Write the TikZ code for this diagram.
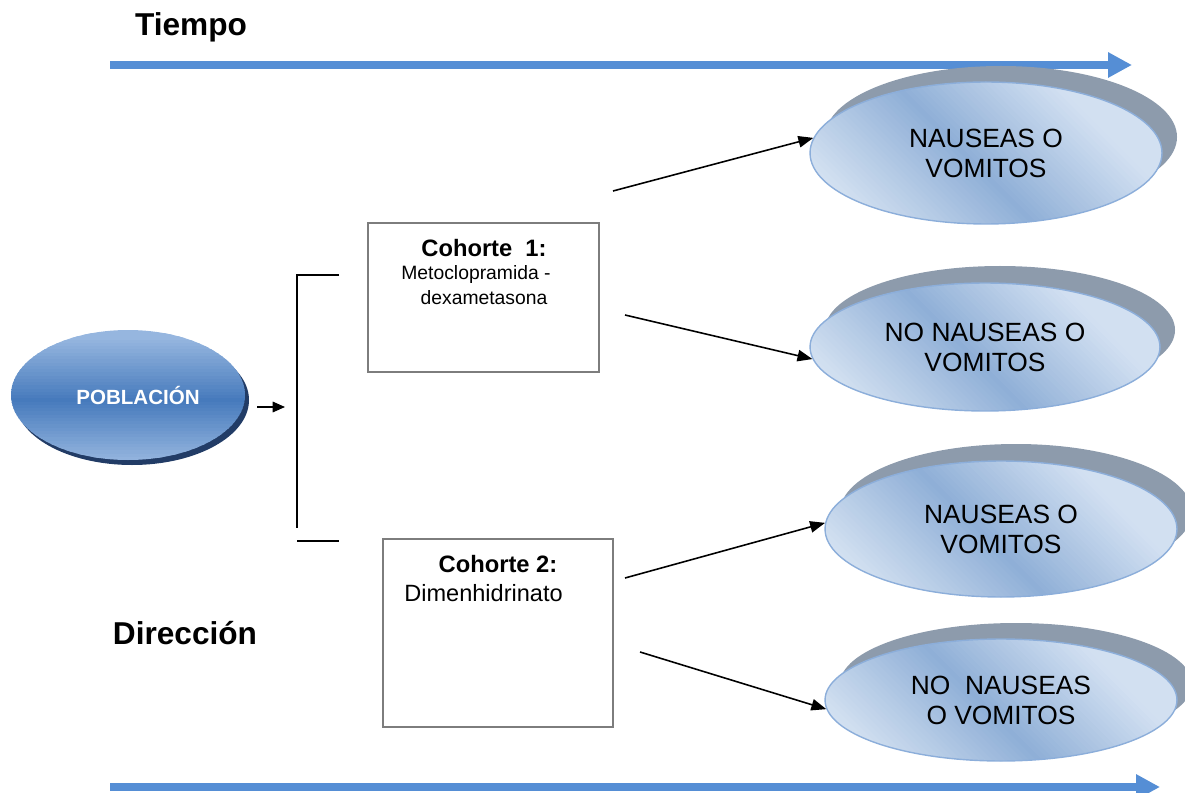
\documentclass[tikz,border=0pt]{standalone}
\usepackage{fontspec}
\setmainfont{Liberation Sans}
\usetikzlibrary{arrows.meta,shapes.geometric}
\definecolor{tblue}{RGB}{85,142,213}
\definecolor{shgray}{RGB}{141,155,172}
\definecolor{eedge}{RGB}{140,174,218}
\definecolor{elight}{RGB}{210,224,241}
\definecolor{edark}{RGB}{143,175,215}
\definecolor{plight}{RGB}{150,182,223}
\definecolor{pdark}{RGB}{70,122,188}
\definecolor{pshadow}{RGB}{34,60,102}
\definecolor{boxgray}{RGB}{125,125,125}
% diagonal light-dark-light gradient clipped to an ellipse (centre x, centre y, rx, ry)
\newcommand\myellgrad[4]{%
  \begin{scope}[shift={(#1,#2)}]
    \clip (0,0) ellipse [x radius=#3, y radius=#4];
    \pgfmathsetmacro{\RR}{10*sqrt((#3/10)*(#3/10)+(#4/10)*(#4/10))}
    \pgfmathsetmacro{\dk}{2*\RR/60}
    \pgfmathsetmacro{\hh}{#4+3}
    \foreach \i in {0,...,59}{
      \pgfmathsetmacro{\kA}{-\RR+\dk*\i}
      \pgfmathsetmacro{\kB}{\kA+\dk+1.5}
      \pgfmathsetmacro{\pp}{min(100,abs(\kA+\dk/2+0.12*\RR)/(0.85*\RR)*100)}
      \fill[elight!\pp!edark] ({\kA-\hh},{-\hh}) -- ({\kB-\hh},{-\hh}) -- ({\kB+\hh},{\hh}) -- ({\kA+\hh},{\hh}) -- cycle;
    }
  \end{scope}}
% vertical light-dark-light gradient clipped to an ellipse
\newcommand\mypobgrad[4]{%
  \begin{scope}[shift={(#1,#2)}]
    \clip (0,0) ellipse [x radius=#3, y radius=#4];
    \pgfmathsetmacro{\dy}{2*#4/40}
    \foreach \i in {0,...,39}{
      \pgfmathsetmacro{\yA}{-#4+\dy*\i}
      \pgfmathsetmacro{\yB}{\yA+\dy+1.5}
      \pgfmathsetmacro{\pp}{min(100,abs(\yA+\dy/2-0.08*#4)/(0.95*#4)*100)}
      \fill[plight!\pp!pdark] ({-#3-2},\yA) rectangle ({#3+2},\yB);
    }
  \end{scope}}
\begin{document}
\begin{tikzpicture}[x=0.02cm,y=-0.02cm,
  timearrow/.style={draw=tblue,line width=4pt,-{Triangle[length=13.6pt,width=13.6pt]}},
  conn/.style={draw=black,line width=0.9pt,-{Triangle[length=8.5pt,width=6.5pt]}},
  brline/.style={draw=black,line width=0.9pt},
  outcome/.style={ellipse,inner sep=0pt,draw=eedge,line width=0.8pt,
    align=center,font=\fontsize{15}{17}\selectfont},
  oshadow/.style={fill=shgray,draw=none},
  pobl/.style={ellipse,inner sep=0pt,draw=none,
    text=white,font=\fontsize{11.7}{14}\selectfont\bfseries},
  pshad/.style={fill=pshadow,draw=none},
  cbox/.style={draw=boxgray,line width=1.1pt,fill=white,inner sep=0pt},
  title/.style={font=\fontsize{18}{21}\selectfont\bfseries},
  ctitle/.style={inner sep=0pt,font=\fontsize{13.5}{16}\selectfont\bfseries},
  ctext/.style={inner sep=0pt,font=\fontsize{11}{13}\selectfont},
  ctextb/.style={inner sep=0pt,font=\fontsize{13.4}{16}\selectfont}
]
\useasboundingbox (0,0) rectangle (1185,793);

% titles
\node[title] (tiempo) at (191,27) {Tiempo};
\node[title] (direccion) at (185,633) {Dirección};

% time arrows
\coordinate (t1s) at (110,65);
\coordinate (t1e) at (1132,65);
\draw[timearrow] (t1s) -- (t1e);
\coordinate (t2s) at (110,787);
\coordinate (t2e) at (1160,787);
\draw[timearrow] (t2s) -- (t2e);

% poblacion
\fill[pshad] (132,400) ellipse [x radius=117, y radius=65];
\mypobgrad{128}{395}{117}{65}
\node[pobl,minimum width=4.68cm,minimum height=2.6cm] (pob) at (128,395) {\hspace*{0.4cm}POBLACIÓN};
\coordinate (pa) at (257,407);
\coordinate (pb) at (285,407);
\draw[conn,-{Triangle[length=7pt,width=6pt]}] (pa) -- (pb);

% bracket
\coordinate (b1) at (339,275);
\coordinate (b2) at (297,275);
\coordinate (b3) at (297,528);
\coordinate (b4) at (297,541);
\coordinate (b5) at (339,541);
\draw[brline] (b1) -- (b2) -- (b3);
\draw[brline] (b4) -- (b5);

% cohort boxes
\node[cbox,minimum width=4.62cm,minimum height=2.98cm] (c1) at (483.5,297.5) {};
\node[ctitle] (c1t) at (484,248) {Cohorte\ \ 1:};
\node[ctext] (c1a) at (476,275) {Metoclopramida -};
\node[ctext] (c1b) at (484,298) {dexametasona};

\node[cbox,minimum width=4.6cm,minimum height=3.76cm] (c2) at (498,633) {};
\node[ctitle] (c2t) at (498,564) {Cohorte 2:};
\node[ctextb,anchor=west] (c2d) at (404,593) {Dimenhidrinato};

% outcome shadows and fills
\fill[oshadow] (1001,137) ellipse [x radius=176, y radius=71];
\myellgrad{986}{153}{176}{71}
\fill[oshadow] (1000,330) ellipse [x radius=175, y radius=64];
\myellgrad{985}{347}{175}{64}
\fill[oshadow] (1016,512) ellipse [x radius=176, y radius=68];
\myellgrad{1001}{529}{176}{68}
\fill[oshadow] (1016,684) ellipse [x radius=176, y radius=61];
\myellgrad{1001}{700}{176}{61}

% outcomes
\node[outcome,minimum width=7.04cm,minimum height=2.84cm] (e1) at (986,153) {NAUSEAS O\\VOMITOS};
\node[outcome,minimum width=7.0cm,minimum height=2.56cm] (e2) at (985,347) {NO NAUSEAS O\\VOMITOS};
\node[outcome,minimum width=7.04cm,minimum height=2.72cm] (e3) at (1001,529) {NAUSEAS O\\VOMITOS};
\node[outcome,minimum width=7.04cm,minimum height=2.44cm] (e4) at (1001,700) {NO\ \ NAUSEAS\\O VOMITOS};

% connectors
\coordinate (s1) at (613,191);
\coordinate (s2) at (625,315);
\coordinate (s3) at (625,578);
\coordinate (s4) at (640,652);
\draw[conn] (s1) -- (e1.175);
\draw[conn] (s2) -- (e2.184);
\draw[conn] (s3) -- (e3.178);
\draw[conn] (s4) -- (e4.183);
\end{tikzpicture}
\end{document}
